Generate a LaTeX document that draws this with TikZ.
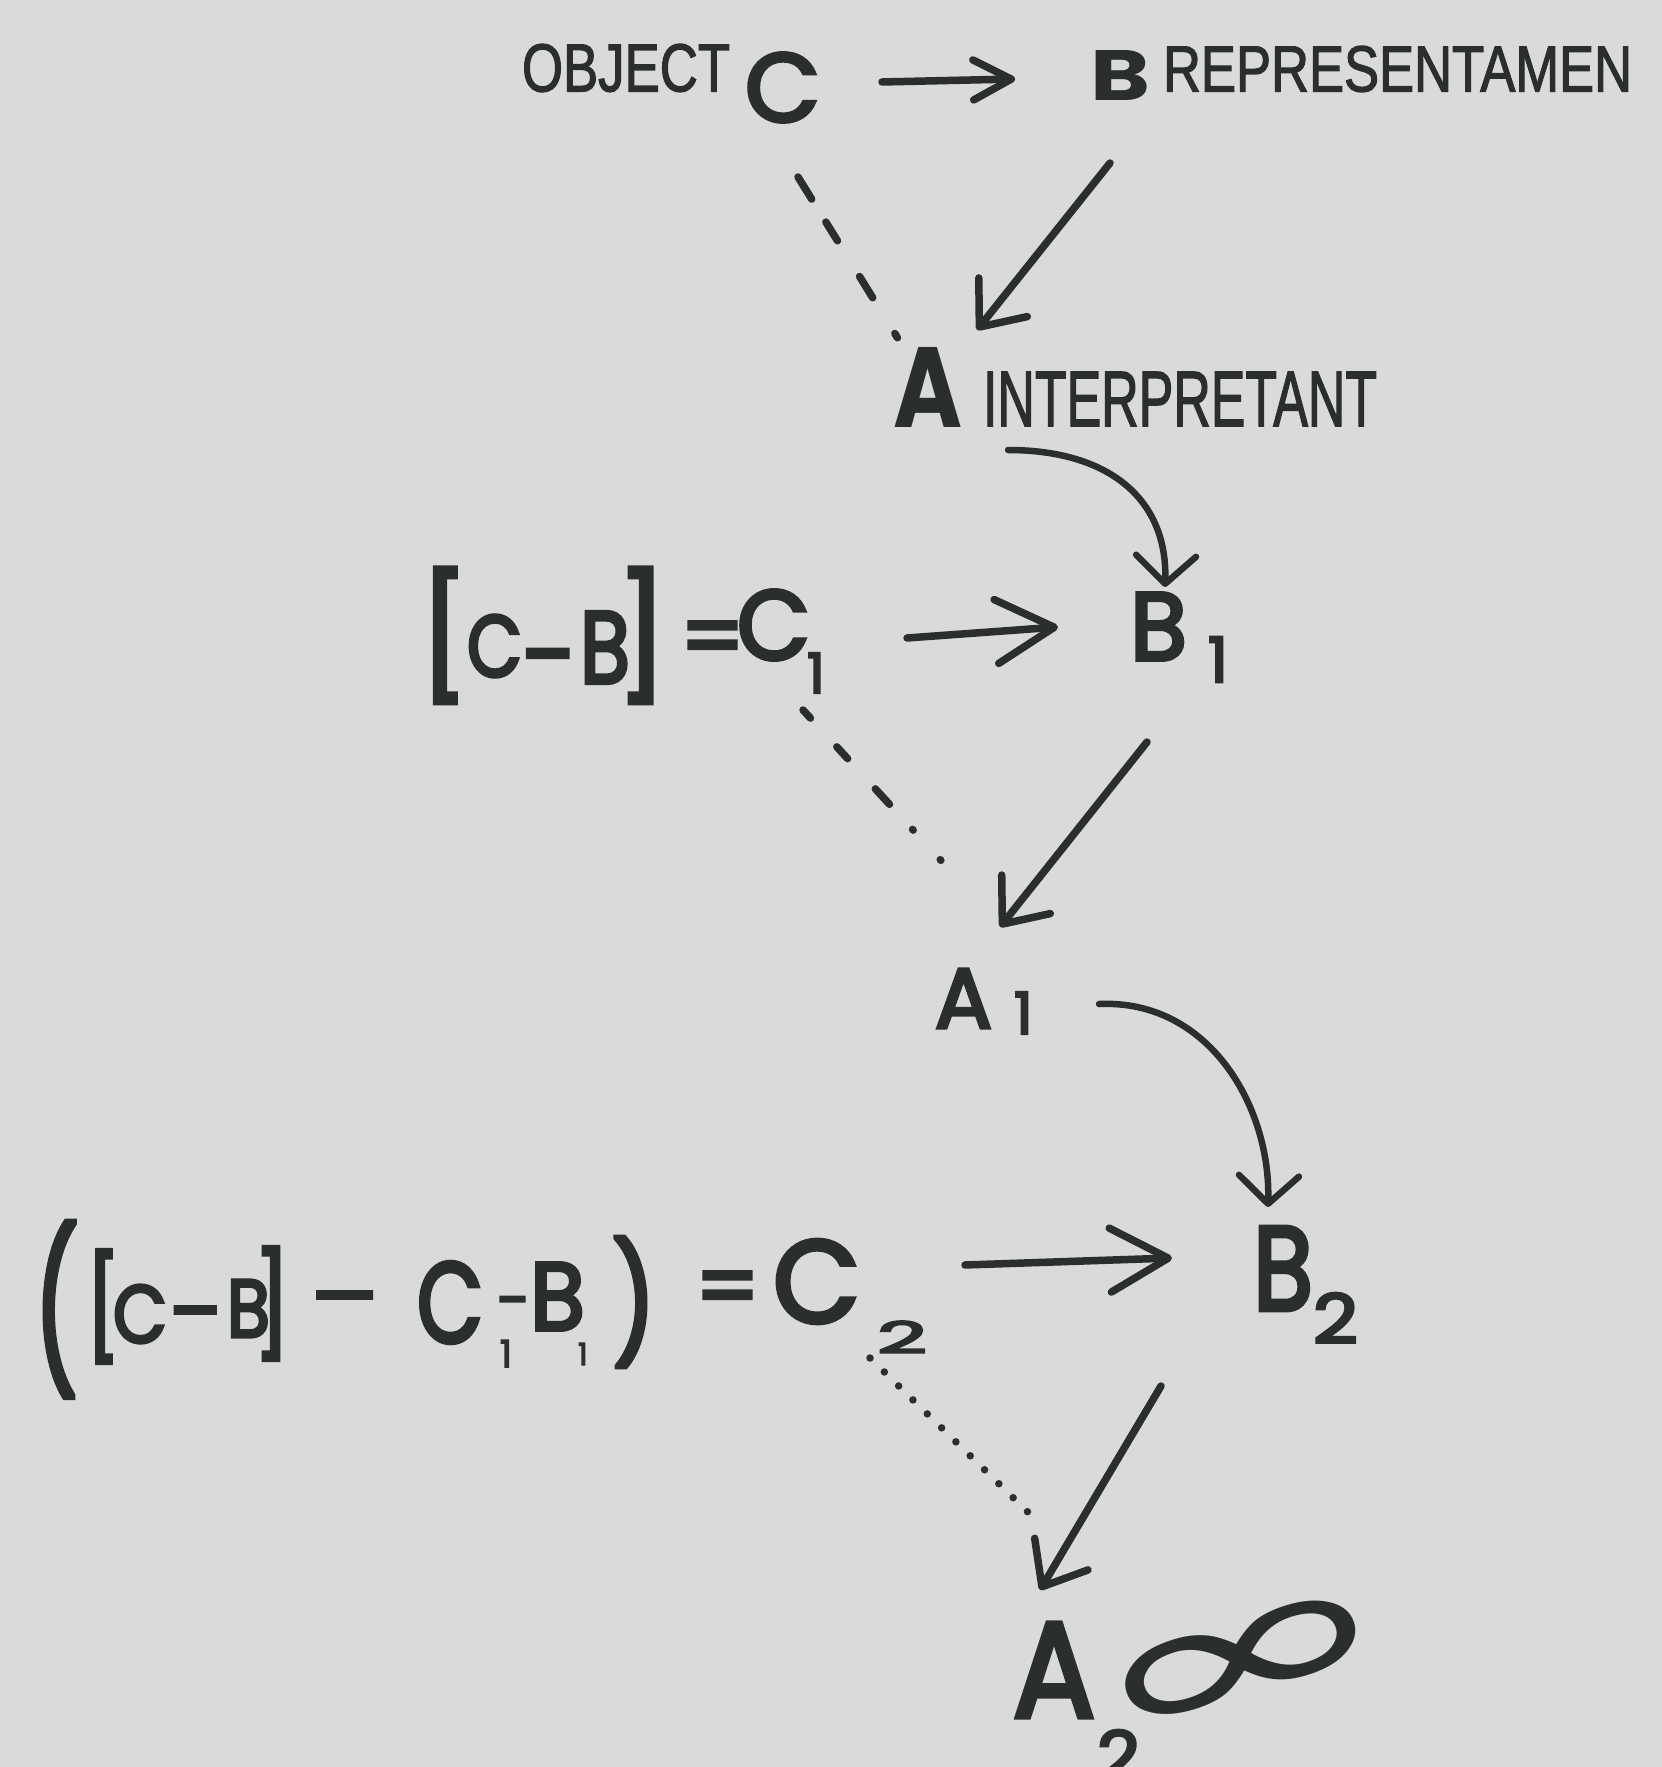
\documentclass[tikz,border=0pt]{standalone}
\usepackage{fontspec}
\usepackage{graphicx}
\usetikzlibrary{arrows.meta,calc}
\newfontfamily\hand{Poppins}[FakeBold=4]
\newfontfamily\handplain{Poppins}
\newfontfamily\lab{Liberation Sans}[FakeBold=2]
\newfontfamily\symf{DejaVu Sans}
\definecolor{paper}{RGB}{218,218,216}
\definecolor{ink}{RGB}{42,46,47}
\newcommand{\GL}[6]{\node[glyph] (#1) at (#2,#3) {\resizebox*{#4}{#5}{#6}};}
\begin{document}
\begin{tikzpicture}[x=1pt,y=-1pt,
  glyph/.style={inner sep=0pt, outer sep=0pt, anchor=south west, text=ink, font=\hand},
  lbl/.style={inner sep=0pt, outer sep=0pt, anchor=south west, text=ink, font=\lab},
  dsh/.style={inner sep=0pt, outer sep=0pt, anchor=base west, text=ink},
  conn/.style={draw=ink, line width=7.5pt, line cap=round, line join=round},
  tipS/.style={-{Straight Barb[round,length=38pt,width=40pt]}},
  tipD/.style={-{Straight Barb[round,length=38pt,width=62pt]}},
  tipH/.style={-{Straight Barb[round,length=58pt,width=64pt]}},
  tipC/.style={-{Straight Barb[round,length=28pt,width=60pt]}},
  dashA/.style={dash pattern=on 26pt off 27pt on 22pt off 42pt on 25pt off 42pt on 5pt off 200pt},
  dashB/.style={dash pattern=on 11pt off 39pt on 16pt off 41pt on 21pt off 34pt on 1pt off 40pt on 1pt off 200pt},
  dotC/.style={dash pattern=on 0pt off 20pt}
]
\fill[paper] (0,0) rectangle (1662,1767);
\useasboundingbox (0,0) rectangle (1662,1767);

% ---------- row 1 ----------
\node[lbl] (obj) at (522,92) {\resizebox*{208pt}{48pt}{OBJECT}};
\GL{c0}{745}{122}{75pt}{69pt}{C}
\node[glyph, font=\handplain\bfseries] (b0) at (1090,100) {\resizebox*{60pt}{50pt}{B}};
\node[lbl] (rep) at (1163,92) {\resizebox*{469pt}{46pt}{REPRESENTAMEN}};

% ---------- row 2 ----------
\node[glyph, font=\handplain\bfseries] (a0) at (893,427) {\resizebox*{69pt}{80pt}{A}};
\node[lbl] (int) at (983,426) {\resizebox*{394pt}{54pt}{INTERPRETANT}};

% ---------- row 3 ----------
\GL{lb1}{420}{703}{48pt}{135pt}{[}
\GL{c1a}{467}{677}{55pt}{62pt}{C}
\node[dsh, font=\hand\fontsize{100}{100}\selectfont] (hy1) at (522,690) {-};
\GL{b1a}{580}{683}{50pt}{71pt}{B}
\GL{rb1}{617}{703}{50pt}{135pt}{]}
\node[dsh, font=\hand\fontsize{90}{90}\selectfont] (eq1) at (680,668) {=};
\GL{c1}{737}{660}{73pt}{70pt}{C}
\GL{s1}{807}{693}{!}{40pt}{1}

\GL{b1}{1130}{660}{57pt}{67pt}{B}
\GL{s1b}{1208}{682}{!}{45pt}{1}

% ---------- row 4 ----------
\GL{a1}{935}{1028}{57pt}{59pt}{A}
\GL{s1c}{1014}{1034}{!}{42pt}{1}

% ---------- row 5 ----------
\GL{lp}{34}{1397}{44pt}{175pt}{(}
\GL{lb2}{86}{1363}{34pt}{113pt}{[}
\GL{c2a}{113}{1343}{54pt}{58pt}{C}
\node[dsh, font=\hand\fontsize{82}{82}\selectfont] (hy2) at (170,1340) {\scalebox{1.2}[1]{-}};
\GL{b2a}{227}{1337}{43pt}{57pt}{B}
\GL{rb2}{254}{1360}{36pt}{113pt}{]}
\node[dsh, font=\hand\fontsize{82}{82}\selectfont] (emd) at (312,1325) {\scalebox{0.9}[1]{—}};
\GL{c2b}{417}{1343}{66pt}{81pt}{C}
\GL{s2a}{500}{1367}{!}{27pt}{1}
\node[dsh, font=\hand\fontsize{60}{60}\selectfont] (hy3) at (497,1321) {-};
\GL{b2b}{530}{1330}{55pt}{67pt}{B}
\GL{s2b}{578}{1365}{!}{22pt}{1}
\GL{rp}{612}{1367}{44pt}{130pt}{)}
\node[dsh, font=\hand\fontsize{90}{90}\selectfont] (eq2) at (695,1318) {=};
\GL{c2}{773}{1323}{87pt}{83pt}{C}
\GL{s2}{877}{1353}{50pt}{32pt}{2}

\GL{b2}{1253}{1310}{60pt}{83pt}{B}
\GL{s2c}{1313}{1343}{45pt}{50pt}{2}

% ---------- row 7 ----------
\GL{a2}{1013}{1717}{82pt}{94pt}{A}
\GL{s2d}{1097}{1780}{43pt}{50pt}{2}
\node[inner sep=0pt, text=ink, font=\symf] (inf) at (1244,1668) {\rotatebox{17}{\resizebox*{320pt}{95pt}{∞}}};

% ---------- connectors ----------
\draw[conn, tipS] ($(c0.east)+(62,-5.5)$) -- ($(b0.west)+(-75,4)$);
\draw[conn, dashA] ($(c0.south)+(15.5,55)$) -- ($(a0.north west)+(12,3)$);
\draw[conn, tipD] ($(b0.south)+(-10,63)$) -- ($(a0.north east)+(15,-17)$);
\draw[conn, line width=6.5pt, tipC] ($(a0.south east)+(46,23)$) .. controls +(102,0) and +(3,-87) .. ($(b1.north)+(6.5,-6)$);

\draw[conn, tipH] ($(c1.east)+(97,13)$) -- ($(b1.west)+(-72,0.5)$);
\draw[conn, dashB] ($(c1.south)+(29.5,50)$) -- ($(a1.north west)+(12,-102)$);
\draw[conn, tipD] ($(b1.south)+(-11.5,82)$) -- ($(a1.north)+(36.5,-42)$);
\draw[conn, line width=6.5pt, tipC] ($(a1.east)+(107,5.5)$) .. controls +(110,-5) and +(3,-100) .. ($(b2.north)+(-15,-20)$);

\draw[conn, tipH] ($(c2.east)+(105,-16.5)$) -- ($(b2.west)+(-81,-10.5)$);
\draw[conn, dotC] ($(c2.south east)+(10,35)$) -- ($(a2.north west)+(23,-103)$);
\draw[conn, tipD] ($(b2.south)+(-122,76)$) -- ($(a2.north)+(-14,-33)$);
\end{tikzpicture}
\end{document}
